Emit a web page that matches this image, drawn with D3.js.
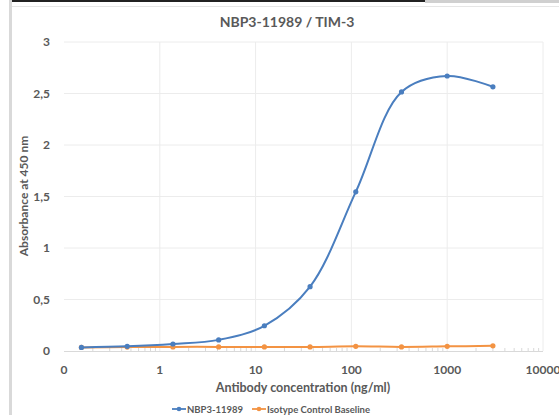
<!DOCTYPE html>
<html><head><meta charset="utf-8">
<script src="https://cdn.jsdelivr.net/npm/d3@7"></script>
<style>
body{margin:0;background:#fff;}
svg{display:block;font-family:Lato,"Open Sans",sans-serif;}
</style></head>
<body><svg id="c" width="559" height="415"></svg>
<script>
const concentrations = [0.152, 0.457, 1.372, 4.115, 12.35, 37.04, 111.1, 333.3, 1000, 3000];
const nbpValues = [0.035, 0.045, 0.068, 0.108, 0.245, 0.625, 1.545, 2.515, 2.67, 2.565];
const isotypeValues = [0.035, 0.038, 0.04, 0.04, 0.04, 0.04, 0.045, 0.04, 0.045, 0.05];
const xTicks = [0.1, 1, 10, 100, 1000, 10000];
const xTickLabels = ["0", "1", "10", "100", "1000", "10000"];
const yTicks = [0, 0.5, 1, 1.5, 2, 2.5, 3];
const yTickLabels = ["0", "0,5", "1", "1,5", "2", "2,5", "3"];
const seriesNames = ["NBP3-11989", "Isotype Control Baseline"];
const colors = ["#4a7ebf", "#f39343"];

const svg = d3.select("#c");
const L = 64, R = 543, T = 42, B = 351;
const x = d3.scaleLog().domain([0.1, 10000]).range([L, R]);
const y = d3.scaleLinear().domain([0, 3]).range([B, T]);
const txt = "#595959";

// frame decorations
svg.append("rect").attr("x", 10).attr("y", 0).attr("width", 415).attr("height", 2).attr("fill", "#222");
svg.append("rect").attr("x", 425).attr("y", 0).attr("width", 134).attr("height", 3).attr("fill", "#d0d0d0");
svg.append("rect").attr("x", 12).attr("y", 6).attr("width", 547).attr("height", 1).attr("fill", "#e6e6e6");
svg.append("rect").attr("x", 9).attr("y", 0).attr("width", 3).attr("height", 415).attr("fill", "#d9d9d9");

// gridlines
svg.append("g").selectAll("line").data(yTicks.slice(1)).join("line")
  .attr("x1", L).attr("x2", R).attr("y1", d => y(d)).attr("y2", d => y(d))
  .attr("stroke", "#ececec").attr("stroke-width", 1);
svg.append("g").selectAll("line").data(xTicks.slice(1)).join("line")
  .attr("x1", d => x(d)).attr("x2", d => x(d)).attr("y1", T).attr("y2", B)
  .attr("stroke", "#ececec").attr("stroke-width", 1);

// x axis
const minor = [];
for (let e = -1; e < 4; e++) for (let m = 2; m < 10; m++) minor.push(m * Math.pow(10, e));
svg.append("g").selectAll("line").data(minor).join("line")
  .attr("x1", d => x(d)).attr("x2", d => x(d)).attr("y1", B - 3).attr("y2", B)
  .attr("stroke", "#d9d9d9");
svg.append("line").attr("x1", L).attr("x2", R).attr("y1", B + 0.5).attr("y2", B + 0.5).attr("stroke", "#d9d9d9");

svg.append("g").selectAll("text").data(xTicks).join("text")
  .attr("x", d => x(d)).attr("y", 374).attr("text-anchor", "middle")
  .attr("font-size", 12).attr("font-weight", 700).attr("fill", txt)
  .text((d, i) => xTickLabels[i]);
svg.append("g").selectAll("text").data(yTicks).join("text")
  .attr("x", 50).attr("y", d => y(d) + 4).attr("text-anchor", "end")
  .attr("font-size", 12).attr("font-weight", 700).attr("fill", txt)
  .text((d, i) => yTickLabels[i]);

// titles
svg.append("text").attr("x", 287).attr("y", 27).attr("text-anchor", "middle")
  .attr("font-size", 14).attr("font-weight", 700).attr("fill", txt).text("NBP3-11989 / TIM-3");
svg.append("text").attr("x", 303).attr("y", 392).attr("text-anchor", "middle")
  .attr("font-size", 12.5).attr("font-weight", 700).attr("fill", txt).text("Antibody concentration (ng/ml)");
svg.append("text").attr("transform", "translate(28,196) rotate(-90)").attr("text-anchor", "middle")
  .attr("font-size", 12).attr("font-weight", 700).attr("fill", txt).text("Absorbance at 450 nm");

// series
const series = [nbpValues, isotypeValues];
const line = d3.line().x(d => x(d[0])).y(d => y(d[1])).curve(d3.curveCatmullRom.alpha(0.5));
[1, 0].forEach(si => {
  const pts = concentrations.map((c, i) => [c, series[si][i]]);
  svg.append("path").datum(pts).attr("d", line).attr("fill", "none")
    .attr("stroke", colors[si]).attr("stroke-width", 2);
  svg.append("g").selectAll("circle").data(pts).join("circle")
    .attr("cx", d => x(d[0])).attr("cy", d => y(d[1])).attr("r", 2.6).attr("fill", colors[si]);
});

// legend
const lg = svg.append("g");
const items = [{x: 172, w: 14}, {x: 252, w: 14}];
items.forEach((it, i) => {
  lg.append("line").attr("x1", it.x).attr("x2", it.x + it.w).attr("y1", 409).attr("y2", 409)
    .attr("stroke", colors[i]).attr("stroke-width", 1.8);
  lg.append("circle").attr("cx", it.x + it.w / 2).attr("cy", 409).attr("r", 2.3).attr("fill", colors[i]);
  lg.append("text").attr("x", it.x + it.w + 1).attr("y", 412.5).attr("font-size", 9.5)
    .attr("font-weight", 700).attr("fill", txt).text(seriesNames[i]);
});
</script></body></html>
